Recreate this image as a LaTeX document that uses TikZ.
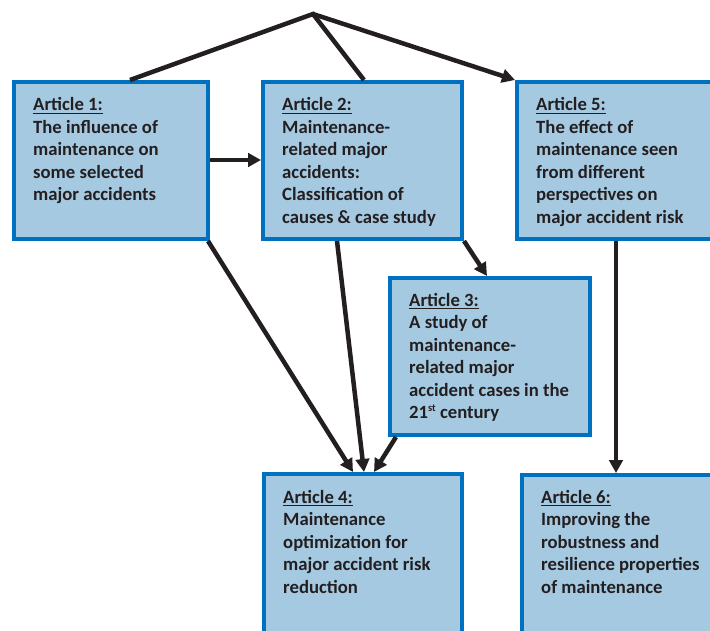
\documentclass[tikz,border=0pt]{standalone}
\usepackage{fontspec}
\setmainfont{Carlito}
\usetikzlibrary{arrows.meta}
\definecolor{boxfill}{HTML}{A6C9E2}
\definecolor{boxedge}{HTML}{0070C0}
\definecolor{ink}{HTML}{231F20}
% underlined article heading with a firm rule
\newcommand\artul[1]{\leavevmode\setbox0\hbox{#1}\rlap{\rule[-3.4pt]{\wd0}{1.5pt}}\box0}
\newcommand\arttxt[1]{\parbox[t]{190pt}{\raggedright #1}}
\newcommand\ordsup[1]{\raisebox{7.5pt}{\fontsize{10.5}{10.5}\selectfont #1}}
\begin{document}
\begin{tikzpicture}[x=1pt,y=-1pt,
  artbox/.style={draw=boxedge, fill=boxfill, line width=4pt, rectangle,
    inner sep=0pt, anchor=north west},
  arttext/.style={anchor=base west, inner sep=0pt, text=ink,
    font=\bfseries\fontsize{18.7}{22.5}\selectfont},
  link/.style={draw=ink, line width=4.5pt, line join=miter},
  arr/.style={link, -{Triangle[length=13pt,width=13.5pt]}}]
\useasboundingbox (0,0) rectangle (710,631);
\clip (0,0) rectangle (710,631);

% article boxes (outer edges given by the anchor points)
\node[artbox, minimum width=194pt, minimum height=157pt] (a1) at (12,80) {};
\node[artbox, minimum width=199pt, minimum height=157pt] (a2) at (261,80) {};
\node[artbox, minimum width=220pt, minimum height=157pt] (a5) at (515,80) {};
\node[artbox, minimum width=200pt, minimum height=157pt] (a3) at (388,276) {};
\node[artbox, minimum width=198pt, minimum height=180pt] (a4) at (262,472) {};
\node[artbox, minimum width=220pt, minimum height=180pt] (a6) at (520,473) {};

% box texts
\node[arttext] (a1t) at ([shift={(21,31)}]a1.north west)
  {\arttxt{\artul{Article 1:}\\The influence of\\maintenance on\\some selected\\major accidents}};
\node[arttext] (a2t) at ([shift={(21,31)}]a2.north west)
  {\arttxt{\artul{Article 2:}\\Maintenance-\\related major\\accidents:\\Classification of\\causes \& case study}};
\node[arttext] (a5t) at ([shift={(21,31)}]a5.north west)
  {\arttxt{\artul{Article 5:}\\The effect of\\maintenance seen\\from different\\perspectives on\\major accident risk}};
\node[arttext] (a3t) at ([shift={(21,30)}]a3.north west)
  {\arttxt{\artul{Article 3:}\\A study of\\maintenance-\\related major\\accident cases in the\\21\ordsup{st} century}};
\node[arttext] (a4t) at ([shift={(21,31)}]a4.north west)
  {\arttxt{\artul{Article 4:}\\Maintenance\\optimization for\\major accident risk\\reduction}};
\node[arttext] (a6t) at ([shift={(21,30)}]a6.north west)
  {\arttxt{\artul{Article 6:}\\Improving the\\robustness and\\resilience properties\\of maintenance}};

% common origin of the top branches
\coordinate (apex) at (313,14);

% connectors
\draw[link] ([xshift=118pt]a1.north west) -- (apex) -- ([xshift=103pt]a2.north west);
\draw[arr] (apex) -- (a5.north west);
\draw[arr] ([yshift=-80pt]a1.north east) -- ([yshift=-80pt]a2.north west);
\draw[arr] (a2.south east) -- ([xshift=99pt]a3.north west);
\draw[arr] ([xshift=-2pt]a1.south east) -- ([xshift=91pt]a4.north west);
\draw[arr] ([xshift=76pt]a2.south west) -- ([xshift=102pt]a4.north west);
\draw[arr] ([xshift=8pt]a3.south west) -- ([xshift=112pt]a4.north west);
\draw[arr] ([xshift=101pt]a5.south west) -- ([xshift=96pt]a6.north west);
\end{tikzpicture}
\end{document}
